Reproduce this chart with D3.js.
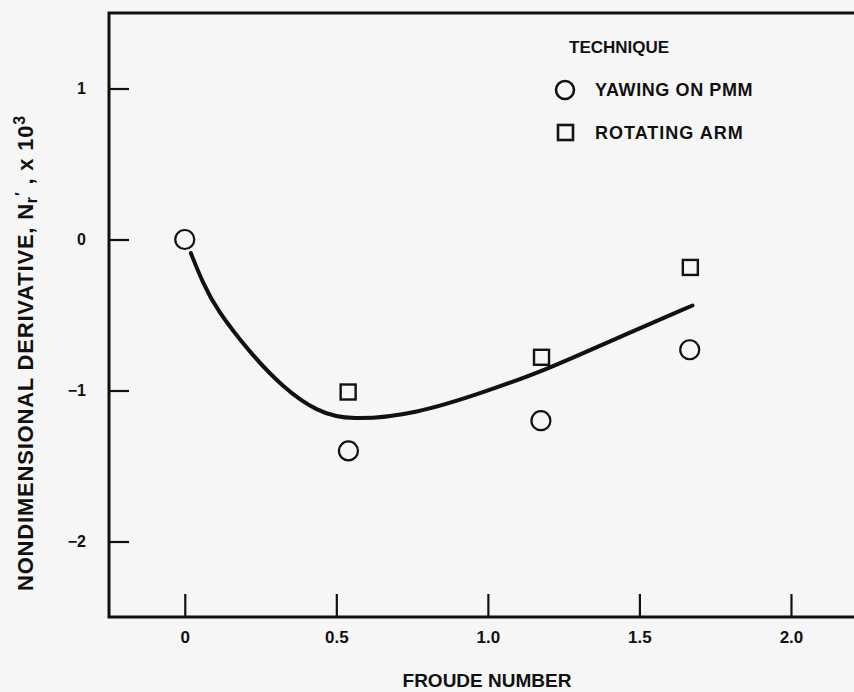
<!DOCTYPE html>
<html>
<head>
<meta charset="utf-8">
<script src="https://cdn.jsdelivr.net/npm/d3@7"></script>
<style>
  body { margin: 0; background: #f6f6f6; }
  svg { display: block; font-family: "Liberation Sans", Arial, sans-serif; font-weight: bold; }
</style>
</head>
<body>
<div id="chart"></div>
<script>
var w = 854;
var h = 692;

// measured points
var yawX = [0, 0.54, 1.175, 1.666];
var yawY = [0, -1.40, -1.20, -0.73];
var armX = [0.539, 1.177, 1.668];
var armY = [-1.01, -0.78, -0.185];

// faired curve
var fitX = [0.02, 0.06, 0.105, 0.215, 0.324, 0.435, 0.545, 0.766, 0.985, 1.196, 1.415, 1.675];
var fitY = [-0.09, -0.29, -0.464, -0.75, -0.98, -1.14, -1.2, -1.155, -1.013, -0.861, -0.662, -0.437];

var xTicks = [0, 0.5, 1.0, 1.5, 2.0];
var yTicks = [1, 0, -1, -2];

var xScale = d3.scaleLinear().domain([-0.25, 2.3]).range([109, 185 + 303 * 2.3]);
var yScale = d3.scaleLinear().domain([-2.5, 1.5]).range([617, 13]);

var svg = d3.select("#chart")
            .append("svg")
            .attr("width", w)
            .attr("height", h);

svg.append("rect")
   .attr("width", w)
   .attr("height", h)
   .attr("fill", "#f6f6f6");

// frame
svg.append("rect")
   .attr("x", xScale(-0.25))
   .attr("y", yScale(1.5))
   .attr("width", xScale(2.3) - xScale(-0.25))
   .attr("height", yScale(-2.5) - yScale(1.5))
   .attr("fill", "none")
   .attr("stroke", "#111")
   .attr("stroke-width", 3);

var xAxis = d3.axisBottom(xScale)
              .tickValues(xTicks)
              .tickSize(-23)
              .tickPadding(14)
              .tickFormat(function(d) { return d === 0 ? "0" : d3.format(".1f")(d); });

var yAxis = d3.axisLeft(yScale)
              .tickValues(yTicks)
              .tickSize(-20)
              .tickPadding(23)
              .tickFormat(d3.format("d"));

var gx = svg.append("g")
   .attr("transform", "translate(0," + yScale(-2.5) + ")")
   .call(xAxis);
var gy = svg.append("g")
   .attr("transform", "translate(" + xScale(-0.25) + ",0)")
   .call(yAxis);

[gx, gy].forEach(function(g) {
  g.select(".domain").remove();
  g.selectAll(".tick line").attr("stroke", "#111").attr("stroke-width", 2.2);
  g.selectAll(".tick text")
   .attr("fill", "#111")
   .style("font-family", "'Liberation Sans', Arial, sans-serif")
   .style("font-weight", "bold");
});
gx.selectAll(".tick text").style("font-size", "17px");
gy.selectAll(".tick text").style("font-size", "16px");

// curve
var line = d3.line()
             .x(function(d) { return xScale(d[0]); })
             .y(function(d) { return yScale(d[1]); })
             .curve(d3.curveBasis);

svg.append("path")
   .datum(d3.zip(fitX, fitY))
   .attr("d", line)
   .attr("fill", "none")
   .attr("stroke", "#111")
   .attr("stroke-width", 4)
   .attr("stroke-linecap", "round");

// markers
svg.selectAll("circle.yaw")
   .data(d3.zip(yawX, yawY))
   .enter()
   .append("circle")
   .attr("class", "yaw")
   .attr("cx", function(d) { return xScale(d[0]); })
   .attr("cy", function(d) { return yScale(d[1]); })
   .attr("r", 9.5)
   .attr("fill", "#f6f6f6")
   .attr("stroke", "#111")
   .attr("stroke-width", 2.2);

svg.selectAll("rect.arm")
   .data(d3.zip(armX, armY))
   .enter()
   .append("rect")
   .attr("class", "arm")
   .attr("x", function(d) { return xScale(d[0]) - 7.5; })
   .attr("y", function(d) { return yScale(d[1]) - 7.5; })
   .attr("width", 15)
   .attr("height", 15)
   .attr("fill", "none")
   .attr("stroke", "#111")
   .attr("stroke-width", 2.4);

// legend
var legend = svg.append("g").attr("fill", "#111");
legend.append("text").attr("x", 569).attr("y", 53).style("font-size", "17px").text("TECHNIQUE");
legend.append("circle")
      .attr("cx", 565).attr("cy", 90).attr("r", 9)
      .attr("fill", "none").attr("stroke", "#111").attr("stroke-width", 2.6);
legend.append("text").attr("x", 595).attr("y", 96)
      .style("font-size", "18px").style("letter-spacing", "0.6px").text("YAWING ON PMM");
legend.append("rect")
      .attr("x", 558).attr("y", 125).attr("width", 15).attr("height", 15)
      .attr("fill", "none").attr("stroke", "#111").attr("stroke-width", 2.6);
legend.append("text").attr("x", 595).attr("y", 139)
      .style("font-size", "18px").style("letter-spacing", "1px").text("ROTATING ARM");

// axis titles
svg.append("text")
   .attr("x", 487)
   .attr("y", 687)
   .attr("text-anchor", "middle")
   .attr("fill", "#111")
   .style("font-size", "19px")
   .text("FROUDE NUMBER");

var yt = svg.append("text")
   .attr("transform", "translate(33,353) rotate(-90)")
   .attr("text-anchor", "middle")
   .attr("fill", "#111")
   .style("font-size", "22px")
   .style("letter-spacing", "0.8px");
yt.append("tspan").text("NONDIMENSIONAL DERIVATIVE, N");
yt.append("tspan").attr("baseline-shift", "-25%").style("font-size", "16px").text("r");
yt.append("tspan").attr("baseline-shift", "35%").style("font-size", "16px").text("\u2032");
yt.append("tspan").text(" , x 10");
yt.append("tspan").attr("baseline-shift", "super").style("font-size", "16px").text("3");
</script>
</body>
</html>
